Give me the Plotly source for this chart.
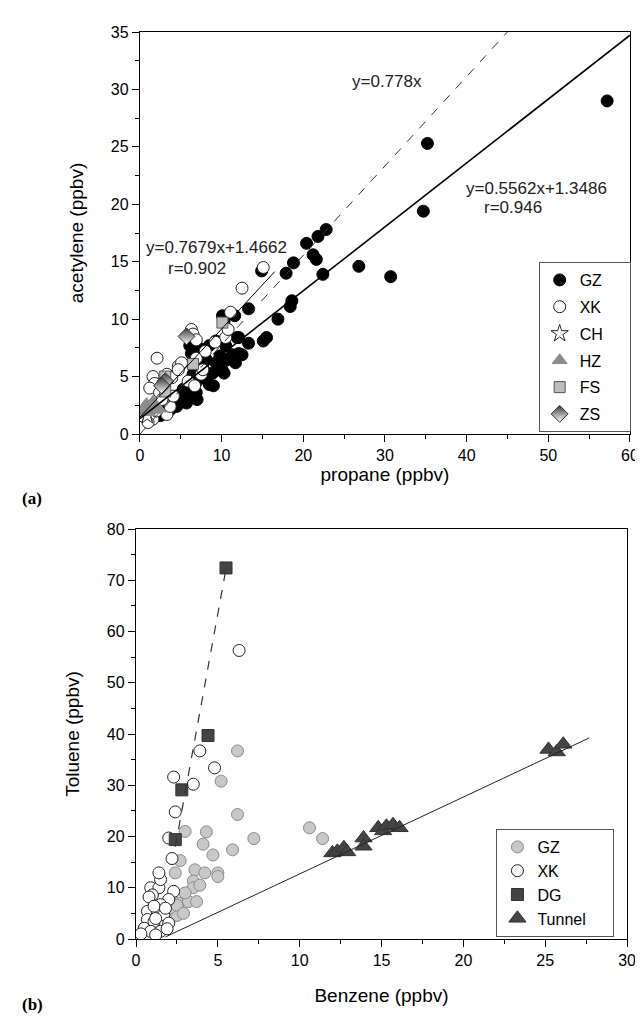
import plotly.graph_objects as go

# ---------------- Panel (a): propane vs acetylene ----------------
gz_a_x = [57.2, 35.2, 34.7, 30.7, 26.8, 22.8, 21.8, 20.4, 21.2, 21.6, 22.4, 18.8, 17.9, 14.9,
          18.6, 18.4, 13.3, 16.9, 15.5, 15.1, 12.1, 13.3, 10.1, 11.6, 10.3, 11.9, 9.3, 8.5,
          7.5, 10.5, 6.1, 6.3, 11.3, 12.1, 8.1, 9.3, 10.5, 11.7, 7.3, 8.9, 10.1, 8.1, 6.9,
          8.5, 10.3, 6.1, 4.9, 5.7, 4.5, 6.9, 5.3, 3.7, 7.0, 9.0, 5.5, 4.2, 3.0, 2.5, 7.8,
          6.5, 12.5, 9.8]
gz_a_y = [29.0, 25.3, 19.4, 13.7, 14.6, 17.8, 17.2, 16.6, 15.6, 15.2, 13.9, 14.9, 14.0, 14.2,
          11.6, 11.1, 10.9, 10.0, 8.4, 8.1, 8.4, 7.9, 10.3, 10.3, 9.8, 8.4, 8.1, 7.7,
          7.4, 7.7, 7.7, 7.0, 6.9, 7.0, 6.5, 6.2, 6.4, 6.2, 5.9, 5.3, 5.5, 4.8, 4.5,
          4.3, 5.3, 3.6, 3.2, 2.7, 2.4, 3.6, 3.9, 2.1, 3.0, 4.2, 3.3, 2.8, 2.0, 1.6, 5.6,
          5.2, 6.9, 6.8]

xk_a_x = [15.1, 12.5, 11.1, 6.3, 10.5, 6.5, 6.9, 2.1, 1.6, 1.8, 1.2, 2.4, 3.3, 3.9, 4.7, 5.1,
          5.9, 6.7, 6.9, 7.5, 7.7, 4.7, 1.6, 3.3, 3.7, 3.1, 4.1, 0.5, 2.7, 8.0, 9.2, 10.8,
          1.0, 2.0]
xk_a_y = [14.5, 12.7, 10.6, 9.1, 8.4, 8.7, 8.2, 6.6, 5.0, 4.4, 4.0, 3.6, 5.2, 4.9, 5.9, 6.2,
          4.6, 4.2, 6.6, 5.2, 5.6, 5.6, 1.3, 1.7, 2.4, 3.3, 3.3, 1.5, 3.0, 7.2, 8.0, 9.1,
          1.0, 2.0]

ch_a_x = [0.9]
ch_a_y = [1.6]

hz_a_x = [0.8, 1.3, 1.9, 1.0, 1.6, 2.3, 0.5]
hz_a_y = [2.6, 2.3, 2.1, 1.9, 2.8, 2.2, 2.2]

fs_a_x = [10.1, 6.5, 3.1, 3.1]
fs_a_y = [9.7, 6.1, 5.0, 3.7]

zs_a_x = [5.7, 3.1, 2.7]
zs_a_y = [8.5, 4.6, 4.2]

# fitted / reference lines of panel (a): slope, intercept, x-extent
fit_all = dict(m=0.5562, b=1.3486, x0=0.0, x1=60.0)
fit_xk = dict(m=0.7679, b=1.4662, x0=0.0, x1=16.5)
ref_line = dict(m=0.778, b=0.0, x0=0.0, x1=45.0)

# ---------------- Panel (b): benzene vs toluene ----------------
gz_b_x = [6.2, 5.2, 10.6, 11.4, 3.0, 4.3, 4.1, 4.7, 6.2, 7.2, 5.9, 2.7, 2.4, 3.6, 4.2, 5.0,
          5.0, 3.5, 3.5, 2.6, 3.2, 3.7, 2.5, 2.1, 2.5, 3.0, 2.9, 3.9]
gz_b_y = [36.7, 30.8, 21.7, 19.6, 21.0, 20.9, 18.5, 16.4, 24.3, 19.6, 17.4, 15.3, 12.9, 13.5,
          12.9, 12.9, 12.2, 11.3, 10.0, 7.0, 7.3, 7.3, 4.6, 6.1, 6.6, 9.0, 5.0, 10.5]

xk_b_x = [6.3, 3.9, 4.8, 2.3, 3.5, 2.4, 2.0, 2.2, 0.9, 1.4, 2.3, 1.5, 1.4, 1.0, 2.0, 1.5, 0.7,
          1.3, 1.7, 0.7, 1.1, 2.0, 0.5, 0.9, 1.5, 1.2, 0.8, 1.1, 1.8, 0.3, 1.9, 1.2]
xk_b_y = [56.3, 36.7, 33.4, 31.6, 30.2, 24.8, 19.7, 15.7, 10.0, 10.0, 9.3, 11.6, 12.9, 8.6, 7.7,
          6.7, 5.4, 5.1, 4.7, 3.8, 3.4, 3.1, 2.1, 1.5, 1.5, 0.8, 8.2, 6.4, 6.0, 1.0, 2.0, 4.0]

dg_b_x = [2.4, 2.8, 4.4, 5.5]
dg_b_y = [19.4, 29.1, 39.7, 72.4]

tun_b_x = [12.0, 12.3, 12.7, 12.9, 13.9, 13.9, 14.8, 15.1, 15.3, 15.7, 16.1, 25.2, 25.7, 26.1]
tun_b_y = [16.8, 17.1, 17.8, 17.0, 19.7, 18.1, 21.7, 21.1, 22.0, 22.3, 21.7, 37.0, 36.5, 38.0]

fit_tunnel = dict(m=1.5, b=-2.3, x0=1.8, x1=27.7)
fit_dg = dict(m=17.5, b=-24.0, x0=2.4, x1=5.5)

FONT = "Liberation Sans, Arial, sans-serif"
NB = "\u00a0"

fig = go.Figure()


def pts(x, y, name, marker, xa, ya, legend):
    fig.add_trace(go.Scatter(x=x, y=y, mode="markers", name=name, marker=marker,
                             xaxis=xa, yaxis=ya, legend=legend, legendgroup=legend + name))


def line(p, color, width, dash, xa, ya):
    xs = [p["x0"], p["x1"]]
    ys = [p["m"] * v + p["b"] for v in xs]
    fig.add_trace(go.Scatter(x=xs, y=ys, mode="lines", showlegend=False, hoverinfo="skip",
                             line=dict(color=color, width=width, dash=dash),
                             xaxis=xa, yaxis=ya))


# panel (a)
pts(gz_a_x, gz_a_y, "GZ" + NB * 5, dict(symbol="circle", size=12, color="black",
                                        line=dict(color="black", width=1)), "x", "y", "legend")
pts(xk_a_x, xk_a_y, "XK", dict(symbol="circle", size=12, color="white",
                               line=dict(color="#222", width=1)), "x", "y", "legend")
pts(ch_a_x, ch_a_y, "CH", dict(symbol="star", size=13, color="white",
                               line=dict(color="#222", width=1)), "x", "y", "legend")
pts(hz_a_x, hz_a_y, "HZ", dict(symbol="triangle-up", size=13, color="#8c8c8c",
                               line=dict(color="#8c8c8c", width=1)), "x", "y", "legend")
pts(fs_a_x, fs_a_y, "FS", dict(symbol="square", size=11, color="#bdbdbd",
                               line=dict(color="#555", width=1)), "x", "y", "legend")
pts(zs_a_x, zs_a_y, "ZS", dict(symbol="diamond", size=13, color="#3a3a3a",
                               gradient=dict(type="vertical", color="white"),
                               line=dict(color="#333", width=1)), "x", "y", "legend")

line(ref_line, "#333", 1, "dash", "x", "y")
line(fit_xk, "black", 1, "solid", "x", "y")
line(fit_all, "black", 1.6, "solid", "x", "y")

# panel (b)
pts(gz_b_x, gz_b_y, "GZ", dict(symbol="circle", size=12, color="#c8c8c8",
                               line=dict(color="#8a8a8a", width=1)), "x2", "y2", "legend2")
pts(xk_b_x, xk_b_y, "XK", dict(symbol="circle", size=12, color="white",
                               line=dict(color="#222", width=1)), "x2", "y2", "legend2")
pts(dg_b_x, dg_b_y, "DG", dict(symbol="square", size=12, color="#444",
                               line=dict(color="#333", width=1)), "x2", "y2", "legend2")
pts(tun_b_x, tun_b_y, "Tunnel" + NB * 5, dict(symbol="triangle-up", size=15, color="#444",
                                             line=dict(color="#333", width=1)), "x2", "y2", "legend2")

line(fit_tunnel, "#222", 1, "solid", "x2", "y2")
line(fit_dg, "#333", 1.2, "dash", "x2", "y2")

W, H = 643, 1017
ML, MR, MT, MB = 128, 12, 24, 86
PW, PH = W - ML - MR, H - MT - MB


def px(xp):
    return (xp - ML) / PW


def py(yp):
    return (H - MB - yp) / PH


axis_common = dict(showgrid=False, zeroline=False, showline=True, mirror=True,
                   linecolor="black", linewidth=1.3, ticks="outside", ticklen=7,
                   tickwidth=1.2, tickcolor="black",
                   tickfont=dict(family=FONT, size=16, color="black"))

fig.update_layout(
    width=W, height=H, paper_bgcolor="white", plot_bgcolor="white",
    margin=dict(l=ML, r=MR, t=MT, b=MB),
    font=dict(family=FONT, size=16, color="black"),
    xaxis=dict(domain=[px(132), px(631)], range=[0, 60], dtick=10, anchor="y",
               minor=dict(dtick=5, ticks="outside", ticklen=4, tickcolor="black"),
               title=dict(text="propane (ppbv)", font=dict(family=FONT, size=19), standoff=2),
               **axis_common),
    yaxis=dict(domain=[py(426), py(24)], range=[0, 35], dtick=5, anchor="x",
               minor=dict(dtick=2.5, ticks="outside", ticklen=4, tickcolor="black"),
               title=dict(text="acetylene (ppbv)", font=dict(family=FONT, size=19), standoff=22),
               **axis_common),
    xaxis2=dict(domain=[px(128), px(628)], range=[0, 30], dtick=5, anchor="y2",
                minor=dict(dtick=2.5, ticks="outside", ticklen=4, tickcolor="black"),
                title=dict(text="Benzene (ppbv)", font=dict(family=FONT, size=19), standoff=20),
                **axis_common),
    yaxis2=dict(domain=[py(931), py(521)], range=[0, 80], dtick=10, anchor="x2",
                minor=dict(dtick=5, ticks="outside", ticklen=4, tickcolor="black"),
                title=dict(text="Toluene (ppbv)", font=dict(family=FONT, size=19), standoff=22),
                **axis_common),
    legend=dict(x=px(538), y=py(254), xanchor="left", yanchor="top",
                bordercolor="#555", borderwidth=1, bgcolor="white",
                font=dict(family=FONT, size=16), traceorder="grouped", tracegroupgap=3),
    legend2=dict(x=px(495), y=py(821), xanchor="left", yanchor="top",
                 bordercolor="#555", borderwidth=1, bgcolor="white",
                 font=dict(family=FONT, size=16), traceorder="grouped", tracegroupgap=0),
)

ann_font = dict(family=FONT, size=17, color="#222")
for text, x, y in [("y=0.778x", 30.2, 30.7), ("y=0.5562x+1.3486", 48.5, 21.4),
                   ("r=0.946", 45.7, 19.7), ("y=0.7679x+1.4662", 9.4, 16.2),
                   ("r=0.902", 7.0, 14.4)]:
    fig.add_annotation(x=x, y=y, xref="x", yref="y", text=text, showarrow=False,
                       font=ann_font)

label_font = dict(family="Liberation Serif, Times New Roman, serif", size=17, color="black")
fig.add_annotation(x=px(10), y=py(490), xref="paper", yref="paper", text="<b>(a)</b>",
                   showarrow=False, xanchor="left", yanchor="middle", font=label_font)
fig.add_annotation(x=px(10), y=py(996), xref="paper", yref="paper", text="<b>(b)</b>",
                   showarrow=False, xanchor="left", yanchor="middle", font=label_font)

fig.write_html("out.html")
